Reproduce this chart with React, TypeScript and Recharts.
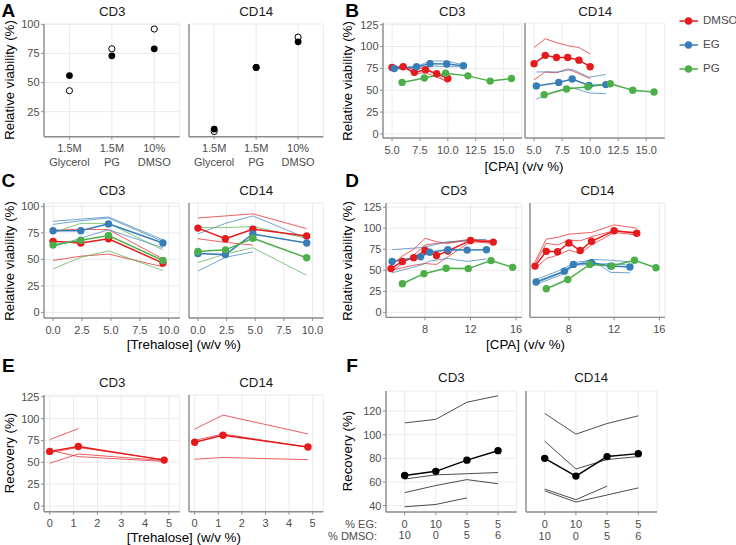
import React from "react";
import { CartesianGrid, ComposedChart, Line, XAxis, YAxis } from "recharts";

const FONT = '"Liberation Sans", Arial, Helvetica, sans-serif';
const RED = "#E41A1C";
const BLUE = "#377EB8";
const GREEN = "#4DAF4A";
const INK = "#000000";
const GRID = "#EBEBEB";
const AXIS = "#8C8C8C";
const TICK_TEXT = "#4D4D4D";

// A: viability by cryoprotectant
const aIdx = [0, 1, 2];
const aLine1 = ["1.5M", "1.5M", "10%"];
const aLine2 = ["Glycerol", "PG", "DMSO"];
const aCD3Filled = [56, 73, 79];
const aCD3Open = [43, 79, 96];
const aCD14Filled = [10, 63, 85];
const aCD14Open = [8, 63, 89];

// B: viability vs CPA concentration
const bDmsoX = [5, 6, 7, 8, 9, 10];
const bEgX = [5.2, 7.2, 8.4, 9.9, 11.4];
const bPgX = [5.9, 7.9, 9.8, 11.8, 13.8, 15.7];
const bCD3Dmso = [76, 77, 70.5, 73.5, 69, 63.5];
const bCD3DmsoReps = [[75, 77, 74, 76, 68, 58], [76, 77, 69, 70, 65, 60]];
const bCD3Eg = [75, 77, 80.5, 80, 78];
const bCD3EgReps = [[75, 77, 83.5, 83.5, 79], [74, 76, 78, 77, 77]];
const bCD3Pg = [59, 64, 69.5, 66.5, 60.5, 63.5];
const bCD14Dmso = [80.5, 90, 87.5, 87.5, 84.5, 77];
const bCD14DmsoReps = [[99, 109, 104.5, 101, 99, 91.5], [62, 71, 70, 74.5, 69, 63.5]];
const bCD14Eg = [55, 59, 63, 55.5, 56.5];
const bCD14EgReps = [[71, 71, 74, 65, 68], [40, 50, 53, 47, 46]];
const bCD14Pg = [45, 51.5, 54, 57.5, 50, 48];

// C: viability vs trehalose
const cX = [0, 2.4, 4.8, 9.5];
const cCD3Dmso = [67, 65.5, 69.5, 46.5];
const cCD3DmsoReps = [[49, 53, 55, 43], [77.5, 78.5, 78, 50.5]];
const cCD3Eg = [77, 77, 83.5, 65.5];
const cCD3EgReps = [[86, 88, 90, 68.5], [83, 86.5, 89, 67], [62, 70, 78, 61]];
const cCD3Pg = [63.5, 68, 72.5, 49];
const cCD3PgReps = [[41, 52, 58, 39.5], [75, 84, 84, 59]];
const cCD14Dmso = [79.5, 69.5, 78.5, 72];
const cCD14DmsoReps = [[89, 91, 93, 79], [69.5, 66, 63.5]];
const cCD14Eg = [55.5, 54.5, 74, 65.5];
const cCD14EgReps = [[74, 84, 91, 70], [39, 52, 57]];
const cCD14Pg = [57.5, 59, 70, 51.5];
const cCD14PgReps = [[80, 80, 81, 70], [47, 55, 61, 35]];

// D: viability vs CPA with trehalose
const dDmsoX = [5, 6, 7, 8, 9, 10, 12, 14];
const dEgX = [5.1, 7.6, 8.4, 10, 11.7, 13.4];
const dPgX = [6, 7.9, 9.85, 11.8, 13.8, 15.7];
const dCD3Dmso = [52, 60.5, 65, 73.5, 67.5, 73, 85.5, 83.5];
const dCD3DmsoReps = [
  [48, 58, 68, 80, 82, 83, 87, 85],
  [56, 67, 75, 88, 84, 82, 86, 84],
  [50, 53, 56, 58, 57, 66, 84, 82],
];
const dCD3Eg = [60.5, 66, 71.5, 74.5, 74, 74.5];
const dCD3EgReps = [[74.5, 77, 79, 84, 85, 87], [47, 56, 61, 64, 60.5, 63.5]];
const dCD3Pg = [34, 46, 52.5, 52, 61.5, 53.5];
const dCD14Dmso = [55, 72.5, 72, 82.5, 73.5, 84.5, 97, 94];
const dCD14DmsoReps = [
  [60, 87, 89, 93, 94, 95, 104, 100],
  [57, 82, 80, 86, 85, 90, 97, 95],
  [52, 64, 68, 74, 70, 80, 95, 92],
];
const dCD14Eg = [36, 49, 57, 59, 55, 54];
const dCD14EgReps = [[33, 46, 55, 63, 62, 60], [39, 52, 59, 62, 47.5, 47], [35, 48, 56, 57, 58, 56]];
const dCD14Pg = [28, 39, 57, 55, 62, 53];

// E: recovery vs trehalose
const eX = [0, 1.2, 4.8];
const eCD3 = [62.5, 68, 52.5];
const eCD3Reps = [[76, 88.5], [49, 59.5, 52], [64, 56.5, 51], [61, 67, 53]];
const eCD14 = [73, 81, 67.5];
const eCD14Reps = [[88, 104, 82.5], [53.5, 55.5, 53], [75, 82.5, 67]];

// F: recovery by EG / DMSO mix
const fIdx = [0, 1, 2, 3];
const fEg = ["0", "10", "5", "5"];
const fDmso = ["10", "0", "5", "6"];
const fCD3 = [65.5, 69, 78.5, 86.5];
const fCD3Reps = [[110, 113, 127.5, 133], [62.5, 66, 67, 68], [51, 57, 62, 58.5], [39, 41, 46.5]];
const fCD14 = [80, 65, 81.5, 84];
const fCD14Reps = [[118, 100.5, 109.5, 116], [94.5, 71, 79, 81.5], [54, 45, 56.5], [52.5, 43, 49, 55]];

type Pt = { x: number; y: number };
type Kind = "main" | "rep" | "dot" | "ring";
type Series = { pts: Pt[]; color: string; kind: Kind };

const zip = (xs: number[], ys: number[]): Pt[] => ys.map((y, i) => ({ x: xs[i], y }));
const main = (xs: number[], ys: number[], color: string): Series => ({ pts: zip(xs, ys), color, kind: "main" });
const reps = (xs: number[], list: number[][], color: string): Series[] =>
  list.map((ys) => ({ pts: zip(xs, ys), color, kind: "rep" as Kind }));

function TwoLineTick(props: any) {
  const { x, y, payload, top, bottom, gap } = props;
  const i = payload.value;
  return (
    <text x={x} y={y} textAnchor="middle" fill={TICK_TEXT} fontSize={11} fontFamily={FONT}>
      <tspan x={x} dy="0.71em">{top[i]}</tspan>
      <tspan x={x} dy={gap}>{bottom[i]}</tspan>
    </text>
  );
}

function Facet({
  box,
  xDomain,
  xTicks,
  yDomain,
  yTicks,
  first,
  xFmt,
  tick,
  series,
}: {
  box: number[];
  xDomain: number[];
  xTicks: number[];
  yDomain: number[];
  yTicks: number[];
  first: boolean;
  xFmt?: (v: number) => string;
  tick?: any;
  series: Series[];
}) {
  const [l, t, r, b] = box;
  const YW = 40;
  const XH = 40;
  const PAD = 8;
  const tickStyle = { fontSize: 11, fill: TICK_TEXT, fontFamily: FONT };
  return (
    <div style={{ position: "absolute", left: l - YW, top: t - PAD }}>
      <ComposedChart
        width={YW + (r - l) + PAD}
        height={PAD + (b - t) + XH}
        margin={{ top: PAD, right: PAD, bottom: 0, left: 0 }}
      >
        <CartesianGrid stroke={GRID} strokeWidth={1} />
        <XAxis
          type="number"
          dataKey="x"
          domain={xDomain}
          ticks={xTicks}
          allowDataOverflow
          interval={0}
          height={XH}
          axisLine={{ stroke: AXIS, strokeWidth: 1.4 }}
          tickLine={{ stroke: AXIS }}
          tickSize={3}
          tickMargin={5}
          tick={tick ?? tickStyle}
          tickFormatter={xFmt}
        />
        <YAxis
          type="number"
          dataKey="y"
          domain={yDomain}
          ticks={yTicks}
          allowDataOverflow
          interval={0}
          width={YW}
          axisLine={{ stroke: AXIS, strokeWidth: 1.4 }}
          tickLine={first ? { stroke: AXIS } : false}
          tickSize={3}
          tickMargin={1.5}
          tick={first ? tickStyle : false}
        />
        {series.map((s, i) => {
          if (s.kind === "rep")
            return (
              <Line key={i} data={s.pts} dataKey="y" type="linear" stroke={s.color} strokeWidth={0.7}
                dot={false} activeDot={false} isAnimationActive={false} />
            );
          if (s.kind === "main")
            return (
              <Line key={i} data={s.pts} dataKey="y" type="linear" stroke={s.color} strokeWidth={1.5}
                dot={{ r: 3.7, fill: s.color, stroke: s.color, strokeWidth: 0 }} activeDot={false}
                isAnimationActive={false} />
            );
          return (
            <Line key={i} data={s.pts} dataKey="y" type="linear" stroke="none"
              dot={
                s.kind === "ring"
                  ? { r: 3.1, fill: "#fff", stroke: INK, strokeWidth: 1 }
                  : { r: 3.4, fill: INK, stroke: INK, strokeWidth: 0 }
              }
              activeDot={false} isAnimationActive={false} />
          );
        })}
      </ComposedChart>
    </div>
  );
}

function T({
  x,
  y,
  children,
  size = 13.3,
  rot = false,
  bold = false,
  color = "#1A1A1A",
  anchor = "middle",
}: {
  x: number;
  y: number;
  children: React.ReactNode;
  size?: number;
  rot?: boolean;
  bold?: boolean;
  color?: string;
  anchor?: "middle" | "end" | "start";
}) {
  const tx = anchor === "middle" ? "-50%" : anchor === "end" ? "-100%" : "0";
  return (
    <div
      style={{
        position: "absolute",
        left: x,
        top: y,
        transform: `translate(${tx}, -50%)${rot ? " rotate(-90deg)" : ""}`,
        fontSize: size,
        fontWeight: bold ? 700 : 400,
        color,
        whiteSpace: "nowrap",
        lineHeight: 1,
      }}
    >
      {children}
    </div>
  );
}

const legendItems = [
  { name: "DMSO", color: RED, y: 20.7 },
  { name: "EG", color: BLUE, y: 45 },
  { name: "PG", color: GREEN, y: 69 },
];

const one = (v: number) => v.toFixed(1);

export default function App() {
  const aTick = (p: any) => <TwoLineTick {...p} top={aLine1} bottom={aLine2} gap={13.3} />;
  const fTick = (p: any) => <TwoLineTick {...p} top={fEg} bottom={fDmso} gap={11.7} />;

  const aX = [-0.6, 2.6];
  const aY = [3.5, 100.3];
  const bX = [4.19, 16.65];
  const bY = [-4.6, 127];
  const cXd = [-0.78, 10.95];
  const cY = [-5.3, 103.2];
  const dX = [4.56, 16.5];
  const dY = [-6, 130];
  const eXd = [-0.24, 5.45];
  const eY = [-6.5, 127];
  const fX = [-0.6, 3.6];
  const fY = [34.6, 137];

  const y0125 = [0, 25, 50, 75, 100, 125];

  return (
    <div
      style={{
        position: "absolute",
        left: 0,
        top: 0,
        width: 736,
        height: 545,
        background: "#fff",
        fontFamily: FONT,
        overflow: "hidden",
      }}
    >
      {/* panel A */}
      <Facet box={[44.3, 24, 180, 136.7]} xDomain={aX} xTicks={aIdx} yDomain={aY} yTicks={[25, 50, 75, 100]}
        first tick={aTick}
        series={[
          { pts: zip(aIdx, aCD3Open), color: INK, kind: "ring" },
          { pts: zip(aIdx, aCD3Filled), color: INK, kind: "dot" },
        ]} />
      <Facet box={[189, 24, 323.3, 136.7]} xDomain={aX} xTicks={aIdx} yDomain={aY} yTicks={[25, 50, 75, 100]}
        first={false} tick={aTick}
        series={[
          { pts: zip(aIdx, aCD14Open), color: INK, kind: "ring" },
          { pts: zip(aIdx, aCD14Filled), color: INK, kind: "dot" },
        ]} />

      {/* panel B */}
      <Facet box={[382.7, 23.3, 521.7, 138.3]} xDomain={bX} xTicks={[5, 7.5, 10, 12.5, 15]} yDomain={bY}
        yTicks={y0125} first xFmt={one}
        series={[
          ...reps(bDmsoX, bCD3DmsoReps, RED),
          ...reps(bEgX, bCD3EgReps, BLUE),
          main(bDmsoX, bCD3Dmso, RED),
          main(bEgX, bCD3Eg, BLUE),
          main(bPgX, bCD3Pg, GREEN),
        ]} />
      <Facet box={[525.3, 23.3, 665, 138.3]} xDomain={bX} xTicks={[5, 7.5, 10, 12.5, 15]} yDomain={bY}
        yTicks={y0125} first={false} xFmt={one}
        series={[
          ...reps(bDmsoX, bCD14DmsoReps, RED),
          ...reps(bEgX, bCD14EgReps, BLUE),
          main(bDmsoX, bCD14Dmso, RED),
          main(bEgX, bCD14Eg, BLUE),
          main(bPgX, bCD14Pg, GREEN),
        ]} />

      {/* panel C */}
      <Facet box={[44.3, 203.3, 180, 318.3]} xDomain={cXd} xTicks={[0, 2.5, 5, 7.5, 10]} yDomain={cY}
        yTicks={[0, 25, 50, 75, 100]} first xFmt={one}
        series={[
          ...reps(cX, cCD3DmsoReps, RED),
          ...reps(cX, cCD3EgReps, BLUE),
          ...reps(cX, cCD3PgReps, GREEN),
          main(cX, cCD3Dmso, RED),
          main(cX, cCD3Eg, BLUE),
          main(cX, cCD3Pg, GREEN),
        ]} />
      <Facet box={[189, 203.3, 323.3, 318.3]} xDomain={cXd} xTicks={[0, 2.5, 5, 7.5, 10]} yDomain={cY}
        yTicks={[0, 25, 50, 75, 100]} first={false} xFmt={one}
        series={[
          ...reps(cX, cCD14DmsoReps, RED),
          ...reps(cX, cCD14EgReps, BLUE),
          ...reps(cX, cCD14PgReps, GREEN),
          main(cX, cCD14Dmso, RED),
          main(cX, cCD14Eg, BLUE),
          main(cX, cCD14Pg, GREEN),
        ]} />

      {/* panel D */}
      <Facet box={[386, 203.3, 521.7, 317.7]} xDomain={dX} xTicks={[8, 12, 16]} yDomain={dY} yTicks={y0125}
        first
        series={[
          ...reps(dDmsoX, dCD3DmsoReps, RED),
          ...reps(dEgX, dCD3EgReps, BLUE),
          main(dDmsoX, dCD3Dmso, RED),
          main(dEgX, dCD3Eg, BLUE),
          main(dPgX, dCD3Pg, GREEN),
        ]} />
      <Facet box={[530, 203.3, 665, 317.7]} xDomain={dX} xTicks={[8, 12, 16]} yDomain={dY} yTicks={y0125}
        first={false}
        series={[
          ...reps(dDmsoX, dCD14DmsoReps, RED),
          ...reps(dEgX, dCD14EgReps, BLUE),
          main(dDmsoX, dCD14Dmso, RED),
          main(dEgX, dCD14Eg, BLUE),
          main(dPgX, dCD14Pg, GREEN),
        ]} />

      {/* panel E */}
      <Facet box={[44.3, 395, 180, 511.7]} xDomain={eXd} xTicks={[0, 1, 2, 3, 4, 5]} yDomain={eY}
        yTicks={y0125} first
        series={[...reps(eX, eCD3Reps, RED), main(eX, eCD3, RED)]} />
      <Facet box={[189, 395, 323.3, 511.7]} xDomain={eXd} xTicks={[0, 1, 2, 3, 4, 5]} yDomain={eY}
        yTicks={y0125} first={false}
        series={[...reps(eX, eCD14Reps, RED), main(eX, eCD14, RED)]} />

      {/* panel F */}
      <Facet box={[386, 390.7, 516.7, 511.7]} xDomain={fX} xTicks={fIdx} yDomain={fY}
        yTicks={[40, 60, 80, 100, 120]} first tick={fTick}
        series={[...reps(fIdx, fCD3Reps, INK), main(fIdx, fCD3, INK)]} />
      <Facet box={[525.7, 390.7, 656.7, 511.7]} xDomain={fX} xTicks={fIdx} yDomain={fY}
        yTicks={[40, 60, 80, 100, 120]} first={false} tick={fTick}
        series={[...reps(fIdx, fCD14Reps, INK), main(fIdx, fCD14, INK)]} />

      {/* panel letters */}
      <T x={8.3} y={10} size={19} bold color="#000">A</T>
      <T x={352} y={10} size={19} bold color="#000">B</T>
      <T x={8.3} y={180} size={19} bold color="#000">C</T>
      <T x={352} y={180} size={19} bold color="#000">D</T>
      <T x={8.3} y={365} size={19} bold color="#000">E</T>
      <T x={352} y={365} size={19} bold color="#000">F</T>

      {/* facet strips */}
      <T x={112.2} y={12}>CD3</T>
      <T x={256.2} y={12}>CD14</T>
      <T x={452.2} y={11.7}>CD3</T>
      <T x={595.2} y={11.7}>CD14</T>
      <T x={112.2} y={190.7}>CD3</T>
      <T x={256.2} y={190.7}>CD14</T>
      <T x={453.9} y={190.7}>CD3</T>
      <T x={597.5} y={190.7}>CD14</T>
      <T x={112.2} y={383.3}>CD3</T>
      <T x={256.2} y={383.3}>CD14</T>
      <T x={451.4} y={378.3}>CD3</T>
      <T x={591.2} y={378.3}>CD14</T>

      {/* axis titles */}
      <T x={9.5} y={80.3} rot color="#000">Relative viability (%)</T>
      <T x={348} y={80.8} rot color="#000">Relative viability (%)</T>
      <T x={9.5} y={260.8} rot color="#000">Relative viability (%)</T>
      <T x={348} y={260.5} rot color="#000">Relative viability (%)</T>
      <T x={9.5} y={453} rot color="#000">Recovery (%)</T>
      <T x={348} y={451} rot color="#000">Recovery (%)</T>
      <T x={524} y={167} color="#000">[CPA] (v/v %)</T>
      <T x={183.8} y={345} color="#000">[Trehalose] (w/v %)</T>
      <T x={525.5} y={345} color="#000">[CPA] (v/v %)</T>
      <T x={183.8} y={538} color="#000">[Trehalose] (w/v %)</T>

      {/* F row labels */}
      <T x={377} y={524} size={11} color={TICK_TEXT} anchor="end">% EG:</T>
      <T x={377} y={535.7} size={11} color={TICK_TEXT} anchor="end">% DMSO:</T>

      {/* legend */}
      {legendItems.map((it) => (
        <div key={it.name} style={{ position: "absolute", left: 679, top: it.y - 8, height: 16 }}>
          <svg width={20} height={16} style={{ position: "absolute", left: 0, top: 0 }}>
            <line x1={0.5} y1={8} x2={19} y2={8} stroke={it.color} strokeWidth={1.5} />
            <circle cx={9.5} cy={8} r={3.7} fill={it.color} />
          </svg>
          <div style={{ position: "absolute", left: 24, top: 8, transform: "translateY(-50%)", fontSize: 11.5, color: TICK_TEXT, lineHeight: 1, whiteSpace: "nowrap" }}>
            {it.name}
          </div>
        </div>
      ))}
    </div>
  );
}
